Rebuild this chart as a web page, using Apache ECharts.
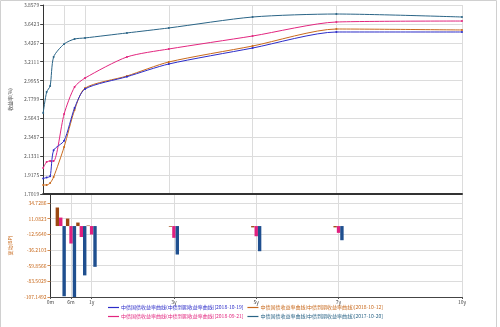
<!DOCTYPE html>
<html>
<head>
<meta charset="utf-8">
<script src="https://cdn.jsdelivr.net/npm/echarts@6/dist/echarts.min.js"></script>
<style>html,body{margin:0;padding:0;background:#fff}#c{width:500px;height:327px}</style>
</head>
<body>
<div id="c"></div>
<script>
// ---- data (years to maturity, yield %) ----
var terms = [0, 1/12, 2/12, 0.25, 0.5, 0.75, 1, 2, 3, 5, 7, 10];
var curve20181019 = [1.879, 1.890, 1.905, 2.200, 2.310, 2.683, 2.900, 3.040, 3.185, 3.367, 3.550, 3.550];
var curve20181012 = [1.805, 1.805, 1.827, 1.896, 2.238, 2.660, 2.910, 3.048, 3.208, 3.390, 3.584, 3.573];
var curve20180921 = [1.998, 2.067, 2.078, 2.078, 2.614, 2.922, 3.025, 3.265, 3.356, 3.504, 3.664, 3.675];
var curve20171020 = [2.626, 2.865, 2.934, 3.265, 3.413, 3.470, 3.482, 3.539, 3.596, 3.721, 3.755, 3.721];

// ---- bar data (change, BP) ----
var barTerms = [0.25, 0.5, 0.75, 1, 3, 5, 7];
var weeklyChange  = [28.0, 11.3, 5.3, 0.8, -1.0, -2.0, -2.0];
var monthlyChange = [12.8, -26.4, -16.5, -12.8, -17.8, -15.4, -10.3];
var yearlyChange  = [-106.0, -110.0, -74.5, -61.6, -43.0, -38.0, -21.4];

// ---- tick labels ----
var xTickValues = [0, 0.5, 1, 3, 5, 7, 10];
var xTickLabels = ['0m', '6m', '1y', '3y', '5y', '7y', '10y'];
var topTickLabels = ['1.7019','1.9175','2.1331','2.3487','2.5643','2.7799','2.9955','3.2111','3.4267','3.6423','3.8579'];
var bottomTickLabels = ['-107.1492','-83.5029','-59.8566','-36.2103','-12.5640','11.0823','34.7286'];

var names = [
  '中债国债收益率曲线(中债到期收益率曲线)[2018-10-19]',
  '中债国债收益率曲线(中债到期收益率曲线)[2018-10-12]',
  '中债国债收益率曲线(中债到期收益率曲线)[2018-09-21]',
  '中债国债收益率曲线(中债到期收益率曲线)[2017-10-20]'
];
var lineColors = ['#2c2cc8', '#c8691c', '#e2267f', '#2a6486'];
var curves = [curve20181019, curve20181012, curve20180921, curve20171020];
var barColors = ['#9c4812', '#e0207f', '#1f4f8f'];
var bars = [weeklyChange, monthlyChange, yearlyChange];
var barNames = ['周变动', '月变动', '年变动'];

var FONT = '"Noto Sans CJK SC", "DejaVu Sans", sans-serif';
var topMin = 1.7019, topInt = 0.2156;
var botMin = -107.1492, botInt = 23.6463;

function pairs(xs, ys) { return xs.map(function (x, i) { return [x, ys[i]]; }); }

var series = [];
curves.forEach(function (c, i) {
  series.push({
    name: names[i], type: 'line', xAxisIndex: 0, yAxisIndex: 0,
    data: pairs(terms, c), smooth: 0.25,
    symbol: 'circle', symbolSize: 2, showSymbol: true,
    lineStyle: { color: lineColors[i], width: 1 },
    itemStyle: { color: lineColors[i] },
    z: 5 - i, animation: false
  });
});
bars.forEach(function (b, i) {
  series.push({
    name: barNames[i], type: 'bar', xAxisIndex: 1, yAxisIndex: 1,
    data: pairs(barTerms, b), barWidth: 3.4, barGap: '0%', clip: true,
    itemStyle: { color: barColors[i] }, animation: false
  });
});

var xCommon = {
  type: 'value', min: 0, max: 10,
  axisTick: { show: true, customValues: xTickValues, length: 2, lineStyle: { color: '#555' } },
  splitLine: { show: true, lineStyle: { color: '#dcdcdc', width: 1 } }
};

var option = {
  animation: false,
  textStyle: { fontFamily: FONT },
  grid: [
    { left: 43, right: 38, top: 5, height: 189, containLabel: false },
    { left: 43, right: 38, top: 194, height: 103, containLabel: false }
  ],
  xAxis: [
    Object.assign({}, xCommon, {
      gridIndex: 0,
      axisLine: { show: true, onZero: false, lineStyle: { color: '#333', width: 2 } },
      axisTick: { show: false, customValues: xTickValues },
      axisLabel: { show: false, customValues: xTickValues }
    }),
    Object.assign({}, xCommon, {
      gridIndex: 1,
      axisLine: { show: true, onZero: false, lineStyle: { color: '#444', width: 1 } },
      axisLabel: {
        show: true, customValues: xTickValues, fontSize: 5, color: '#444', margin: 3, fontFamily: FONT,
        formatter: function (v) { var k = xTickValues.indexOf(v); return k >= 0 ? xTickLabels[k] : ''; }
      }
    })
  ],
  yAxis: [
    {
      type: 'value', gridIndex: 0, min: topMin, max: topMin + topInt * 10, interval: topInt,
      name: '收益率(%)', nameLocation: 'middle', nameGap: 20, nameRotate: 90,
      nameTextStyle: { fontSize: 5, color: '#555', fontFamily: FONT },
      axisLine: { show: true, lineStyle: { color: '#333', width: 1 } },
      axisTick: { show: true, length: 3, lineStyle: { color: '#444' } },
      axisLabel: {
        fontSize: 5, color: '#555', margin: 4, fontFamily: FONT, showMinLabel: true, showMaxLabel: true,
        formatter: function (v) { var k = Math.round((v - topMin) / topInt); return topTickLabels[k] || ''; }
      },
      splitLine: { show: true, lineStyle: { color: '#dcdcdc', width: 1 } }
    },
    {
      type: 'value', gridIndex: 1, min: botMin, max: 48.4, interval: botInt,
      name: '变动(BP)', nameLocation: 'middle', nameGap: 27, nameRotate: 90,
      nameTextStyle: { fontSize: 5, color: '#c8691c', fontFamily: FONT },
      axisLine: { show: true, lineStyle: { color: '#333', width: 1 } },
      axisTick: { show: true, length: 3, lineStyle: { color: '#d08a50' } },
      axisLabel: {
        fontSize: 5, color: '#c8691c', margin: 4, fontFamily: FONT, showMaxLabel: false,
        formatter: function (v) { var k = Math.round((v - botMin) / botInt); return bottomTickLabels[k] || ''; }
      },
      splitLine: { show: true, lineStyle: { color: '#dcdcdc', width: 1 } }
    }
  ],
  legend: {
    left: 108, top: 305, width: 280, orient: 'horizontal', padding: 0,
    icon: 'rect', itemWidth: 11, itemHeight: 1.2, itemGap: 4,
    textStyle: { fontSize: 5, fontFamily: FONT, padding: [0, 0, 0, -3] },
    data: names.map(function (n, i) {
      return { name: n, itemStyle: { color: lineColors[i] }, textStyle: { color: lineColors[i] } };
    })
  },
  graphic: [
    { type: 'rect', shape: { x: 0.5, y: 0.5, width: 496, height: 340 }, style: { fill: 'none', stroke: '#d0d0d0', lineWidth: 1 }, silent: true }
  ],
  series: series
};

var chart = echarts.init(document.getElementById('c'), null, { renderer: 'canvas' });
chart.setOption(option);
</script>
</body>
</html>
